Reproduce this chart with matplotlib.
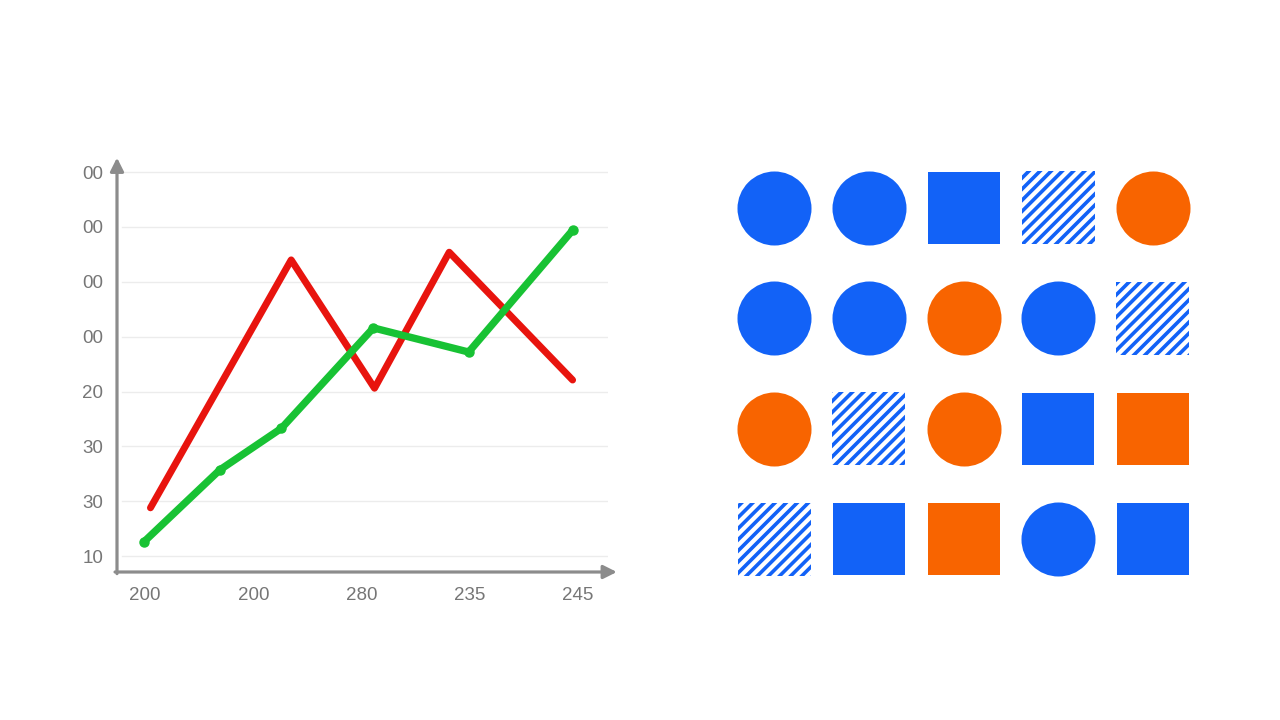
import matplotlib
matplotlib.use('Agg')
import matplotlib.pyplot as plt

plt.rcParams['font.family'] = ['Liberation Sans', 'DejaVu Sans']

# left chart data (x positions in tick units, y in grid-line units)
xticklabels = ['200', '200', '280', '235', '245']
yticklabels = ['10', '30', '30', '20', '00', '00', '00', '00']
red_x = [0.05, 1.35, 2.12, 2.81, 3.95]
red_y = [0.88, 5.40, 3.06, 5.54, 3.21]
green_x = [-0.01, 0.69, 1.26, 2.11, 2.99, 3.95]
green_y = [0.26, 1.57, 2.33, 4.16, 3.72, 5.94]

# right grid of shapes, row by row from the top
shapes = [
    ['circle', 'circle', 'square', 'hatch', 'circle'],
    ['circle', 'circle', 'circle', 'circle', 'hatch'],
    ['circle', 'hatch', 'circle', 'square', 'square'],
    ['hatch', 'square', 'square', 'circle', 'square'],
]
colors = [
    ['blue', 'blue', 'blue', 'blue', 'orange'],
    ['blue', 'blue', 'orange', 'blue', 'blue'],
    ['orange', 'blue', 'orange', 'blue', 'orange'],
    ['blue', 'blue', 'orange', 'blue', 'blue'],
]

BLUE = '#1262f7'
ORANGE = '#f86400'
RED = '#e8140e'
GREEN = '#18c234'
AXIS = '#8c8c8c'
LABEL = '#767676'

plt.rcParams['hatch.color'] = BLUE
plt.rcParams['hatch.linewidth'] = 2.6

fig = plt.figure(figsize=(12.8, 7.2), dpi=100)
fig.patch.set_facecolor('white')

# ---- line chart
ax = fig.add_axes([117/1280, 1-572/720, 491/1280, (572-165)/720])
ax.set_xlim(-0.259, 4.277)
ax.set_ylim(-0.29, 7.13)
for s in ax.spines.values():
    s.set_visible(False)
for i in range(len(yticklabels)):
    ax.axhline(i, xmin=0.01, xmax=1.0, color='#ececec', lw=1.0, zorder=0)

ax.plot(red_x, red_y, color=RED, lw=5, solid_capstyle='round',
        solid_joinstyle='round', zorder=3)
ax.plot(green_x, green_y, color=GREEN, lw=5.3, solid_capstyle='round',
        solid_joinstyle='round', marker='o', markersize=6.5, zorder=4)

ax.set_xticks(range(len(xticklabels)))
ax.set_xticklabels(xticklabels)
ax.set_yticks(range(len(yticklabels)))
ax.set_yticklabels(yticklabels)
ax.tick_params(length=0, labelsize=13.5, labelcolor=LABEL)
ax.tick_params(axis='y', pad=10)
ax.tick_params(axis='x', pad=11)

arrow = dict(arrowstyle='-|>', color=AXIS, lw=2.3, mutation_scale=20,
             shrinkA=0, shrinkB=0)
ax.annotate('', xy=(1.018, 0), xytext=(-0.004, 0), xycoords='axes fraction',
            arrowprops=arrow, annotation_clip=False)
ax.annotate('', xy=(0, 1.018), xytext=(0, -0.004), xycoords='axes fraction',
            arrowprops=arrow, annotation_clip=False)

# ---- shape grid
ax2 = fig.add_axes([727/1280, 1-594.6/720, 473/1280, 442/720])
ax2.set_xlim(-0.5, 4.5)
ax2.set_ylim(3.5, -0.5)
ax2.axis('off')

cmap = {'blue': BLUE, 'orange': ORANGE}
for r, row in enumerate(shapes):
    for c, kind in enumerate(row):
        col = cmap[colors[r][c]]
        if kind == 'circle':
            ax2.scatter([c], [r], s=2840, marker='o', color=col, linewidths=0)
        elif kind == 'square':
            ax2.scatter([c], [r], s=2760, marker='s', color=col, linewidths=0)
        else:
            ax2.scatter([c], [r], s=2760, marker='s', facecolor='white',
                        edgecolor=col, linewidths=0, hatch='///')

fig.savefig('out.png', dpi=100, facecolor='white')
